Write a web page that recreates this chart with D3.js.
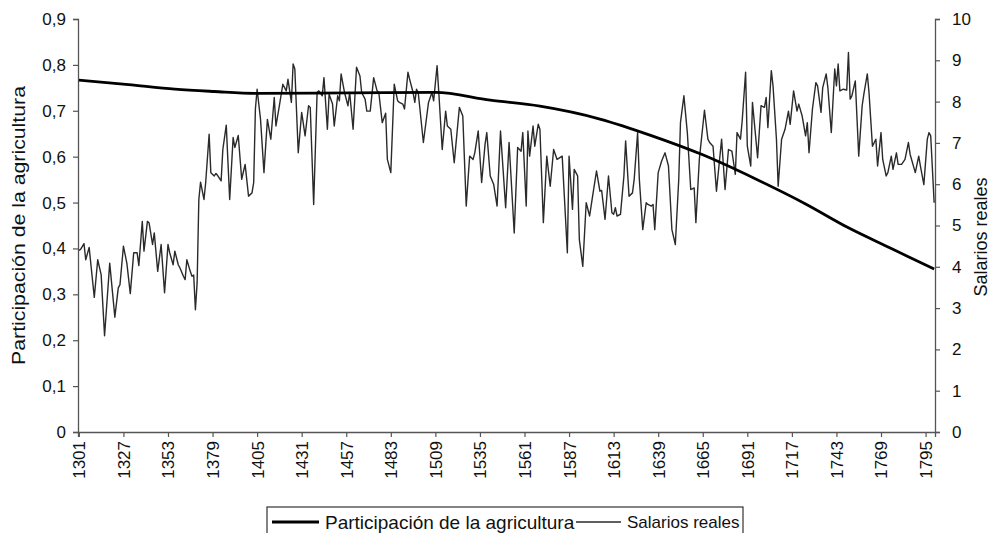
<!DOCTYPE html>
<html>
<head>
<meta charset="utf-8">
<script src="https://cdn.jsdelivr.net/npm/d3@7"></script>
<style>
  body { margin: 0; background: #fff; }
  svg { display: block; font-family: "Liberation Sans", Arial, sans-serif; }
</style>
</head>
<body>
<svg id="chart" width="990" height="533"></svg>
<script>
// tick labels on the category axis
const yearTicks = d3.range(1301, 1800, 26);
const leftTicks = [0, 0.1, 0.2, 0.3, 0.4, 0.5, 0.6, 0.7, 0.8, 0.9];
const rightTicks = [0, 1, 2, 3, 4, 5, 6, 7, 8, 9, 10];

// Participación de la agricultura (left axis)
const agriYears = [1301, 1330, 1357, 1380, 1405, 1460, 1509, 1541, 1570, 1605, 1635, 1665, 1695, 1725, 1750, 1775, 1800];
const agriShare = [0.767, 0.757, 0.747, 0.742, 0.738, 0.739, 0.740, 0.723, 0.710, 0.682, 0.646, 0.604, 0.553, 0.497, 0.445, 0.400, 0.355];

// Salarios reales (right axis), turning points
const wageYears = [
  1301, 1302, 1304, 1305, 1307, 1310, 1312, 1314, 1316, 1319, 1322, 1324, 1325, 1327, 1329, 1331, 1333, 1335, 1336, 1338,
  1339, 1341, 1342, 1344, 1345, 1347, 1349, 1351, 1353, 1354, 1356, 1357, 1359, 1360, 1362, 1363, 1364, 1366, 1367, 1368,
  1369, 1370, 1371, 1372, 1374, 1375, 1377, 1378, 1380, 1381, 1382, 1384, 1385, 1387, 1389, 1391, 1392, 1394, 1396, 1398,
  1400, 1402, 1403, 1404, 1405, 1407, 1409, 1411, 1413, 1415, 1416, 1418, 1420, 1422, 1423, 1425, 1426, 1427, 1429, 1431,
  1433, 1435, 1436, 1438, 1440, 1441, 1443, 1444, 1446, 1447, 1449, 1450, 1452, 1453, 1454, 1456, 1458, 1459, 1461, 1463,
  1465, 1466, 1468, 1469, 1471, 1473, 1475, 1476, 1478, 1480, 1481, 1483, 1485, 1487, 1488, 1490, 1491, 1493, 1494, 1496,
  1497, 1498, 1499, 1502, 1505, 1507, 1508, 1510, 1511, 1513, 1515, 1516, 1518, 1520, 1523, 1525, 1527, 1529, 1531, 1532,
  1534, 1536, 1538, 1539, 1541, 1543, 1545, 1547, 1550, 1552, 1555, 1557, 1559, 1560, 1562, 1563, 1564, 1566, 1567, 1569,
  1570, 1572, 1574, 1576, 1578, 1580, 1583, 1586, 1587, 1589, 1590, 1592, 1593, 1595, 1597, 1599, 1600, 1603, 1605, 1606,
  1608, 1610, 1612, 1613, 1614, 1615, 1617, 1619, 1620, 1622, 1624, 1625, 1627, 1628, 1630, 1632, 1633, 1635, 1636, 1637,
  1639, 1641, 1643, 1645, 1647, 1649, 1651, 1652, 1654, 1656, 1658, 1660, 1661, 1663, 1666, 1668, 1669, 1671, 1673, 1676,
  1678, 1680, 1682, 1684, 1685, 1687, 1688, 1690, 1691, 1693, 1694, 1696, 1697, 1699, 1701, 1702, 1703, 1705, 1706, 1708,
  1709, 1711, 1713, 1715, 1716, 1718, 1720, 1721, 1723, 1725, 1726, 1727, 1729, 1731, 1732, 1734, 1735, 1737, 1738, 1740,
  1742, 1743, 1744, 1745, 1747, 1749, 1750, 1751, 1752, 1754, 1756, 1758, 1759, 1761, 1762, 1763, 1764, 1766, 1767, 1769,
  1770, 1772, 1773, 1775, 1776, 1778, 1779, 1781, 1783, 1785, 1786, 1789, 1791, 1792, 1794, 1796, 1797, 1798, 1800
];
const wageValues = [
  4.40, 4.42, 4.56, 4.17, 4.47, 3.26, 4.17, 3.81, 2.33, 4.09, 2.78, 3.49, 3.57, 4.50, 4.09, 3.35, 4.34, 4.34, 4.03, 5.10,
  4.38, 5.10, 5.06, 4.54, 4.82, 3.89, 4.54, 3.37, 4.54, 4.34, 4.05, 4.38, 4.05, 3.97, 3.77, 3.69, 4.17, 3.89, 3.77, 3.80,
  2.96, 3.61, 5.63, 6.05, 5.63, 6.04, 7.21, 6.28, 6.20, 6.26, 6.21, 6.08, 6.84, 7.43, 5.63, 7.13, 6.89, 7.18, 6.12, 6.48,
  5.71, 5.79, 6.04, 7.82, 8.30, 7.57, 6.28, 7.57, 7.09, 8.10, 7.41, 7.90, 8.42, 8.26, 8.54, 7.98, 8.91, 8.79, 6.76, 7.74,
  7.17, 7.90, 7.86, 5.51, 8.22, 8.26, 8.14, 8.58, 7.33, 8.18, 7.94, 7.41, 8.14, 8.02, 8.67, 8.22, 7.90, 8.22, 7.33, 8.83,
  8.62, 8.22, 8.06, 7.77, 7.77, 8.58, 8.26, 8.22, 7.49, 7.72, 6.60, 6.28, 8.42, 8.02, 7.98, 7.94, 7.82, 8.71, 8.54, 8.22,
  7.98, 8.30, 8.22, 7.01, 7.98, 8.22, 8.02, 8.87, 8.22, 6.84, 7.77, 7.41, 7.33, 6.52, 7.86, 7.65, 5.47, 6.68, 6.60, 6.76,
  7.29, 6.04, 6.97, 7.25, 6.20, 6.00, 5.47, 7.29, 5.43, 7.01, 4.82, 6.89, 6.80, 7.25, 5.47, 7.29, 6.68, 7.41, 6.92, 7.45,
  7.33, 5.07, 6.68, 5.95, 6.84, 6.60, 6.68, 4.34, 6.68, 5.39, 6.36, 6.20, 4.66, 4.01, 5.55, 5.23, 5.51, 6.32, 5.83, 5.85,
  5.15, 6.20, 5.31, 5.27, 5.43, 5.23, 5.27, 6.20, 7.05, 5.71, 5.79, 6.12, 7.25, 6.12, 4.90, 5.55, 5.51, 5.47, 5.51, 4.90,
  6.28, 6.56, 6.76, 6.44, 4.90, 4.54, 6.12, 7.49, 8.14, 7.25, 5.87, 5.91, 5.07, 6.60, 7.79, 7.09, 7.01, 6.92, 5.83, 7.09,
  5.87, 6.84, 6.80, 6.24, 7.25, 7.09, 7.53, 8.71, 6.92, 6.44, 7.98, 7.09, 6.64, 7.90, 7.86, 8.10, 7.37, 8.75, 8.38, 7.09,
  5.95, 7.09, 7.33, 7.77, 7.45, 8.26, 7.77, 7.94, 7.65, 7.17, 7.49, 6.76, 7.82, 8.46, 8.38, 7.74, 8.34, 8.67, 8.34, 7.25,
  8.79, 8.38, 8.91, 8.26, 8.30, 8.28, 9.19, 8.06, 8.14, 8.50, 6.68, 7.90, 8.18, 8.67, 8.22, 7.57, 6.92, 7.09, 6.44, 7.25,
  6.60, 6.20, 6.28, 6.68, 6.36, 6.76, 6.48, 6.48, 6.60, 7.01, 6.72, 6.28, 6.68, 6.44, 5.99, 7.09, 7.25, 7.17, 5.55
];

const margin = {top: 19, right: 55, bottom: 101, left: 78};
const svg = d3.select('#chart');
const width = +svg.attr('width') - margin.left - margin.right;
const height = +svg.attr('height') - margin.top - margin.bottom;
const axisColor = '#555';

const x = d3.scaleLinear().domain([1300.5, 1800.5]).range([0, width]);
const yLeft = d3.scaleLinear().domain([0, 0.9]).range([height, 0]);
const yRight = d3.scaleLinear().domain([0, 10]).range([height, 0]);

const g = svg.append('g').attr('transform', `translate(${margin.left},${margin.top})`);

const commaFmt = d => d === 0 ? '0' : d3.format('.1f')(d).replace('.', ',');

// axes
const leftAxis = g.append('g')
  .call(d3.axisLeft(yLeft).tickValues(leftTicks).tickFormat(commaFmt).tickSize(5).tickPadding(7));
const rightAxis = g.append('g').attr('transform', `translate(${width},0)`)
  .call(d3.axisRight(yRight).tickValues(rightTicks).tickFormat(d3.format('d')).tickSize(5).tickPadding(12));
const bottomAxis = g.append('g').attr('transform', `translate(0,${height})`)
  .call(d3.axisBottom(x).tickValues(yearTicks).tickFormat(d3.format('d')).tickSize(5).tickPadding(4));

[leftAxis, rightAxis, bottomAxis].forEach(a => {
  a.select('.domain').attr('stroke', axisColor).attr('stroke-width', 1.3);
  a.selectAll('.tick line').attr('stroke', axisColor).attr('stroke-width', 1.2);
  a.selectAll('.tick text').attr('fill', '#111').style('font-size', '17px');
});
bottomAxis.selectAll('.tick text')
  .attr('transform', 'rotate(-90)')
  .attr('text-anchor', 'end')
  .attr('x', -9)
  .attr('y', 0)
  .attr('dy', '0.35em');

// axis titles
svg.append('text')
  .attr('transform', `translate(18,${margin.top + height / 2}) rotate(-90) scale(1.12,1)`)
  .attr('text-anchor', 'middle')
  .attr('dy', '0.35em')
  .style('font-size', '19px')
  .attr('fill', '#111')
  .text('Participación de la agricultura');
svg.append('text')
  .attr('transform', `translate(981,237) rotate(-90)`)
  .attr('text-anchor', 'middle')
  .attr('dy', '0.35em')
  .style('font-size', '18px')
  .attr('fill', '#111')
  .text('Salarios reales');

// lines
const agri = agriYears.map((yr, i) => ({year: yr, value: agriShare[i]}));
const wage = wageYears.map((yr, i) => ({year: yr, value: wageValues[i]}));

g.append('path').datum(wage)
  .attr('fill', 'none')
  .attr('stroke', '#2a2a2a')
  .attr('stroke-width', 1.4)
  .attr('stroke-linejoin', 'round')
  .attr('d', d3.line().x(d => x(d.year)).y(d => yRight(d.value)));

g.append('path').datum(agri)
  .attr('fill', 'none')
  .attr('stroke', '#000')
  .attr('stroke-width', 2.8)
  .attr('d', d3.line().curve(d3.curveMonotoneX).x(d => x(d.year)).y(d => yLeft(d.value)));

// legend
const legend = svg.append('g').attr('transform', 'translate(267,507)');
legend.append('rect')
  .attr('width', 476).attr('height', 40)
  .attr('fill', '#fff').attr('stroke', '#333').attr('stroke-width', 1.2);
legend.append('line').attr('x1', 5).attr('x2', 52).attr('y1', 15).attr('y2', 15)
  .attr('stroke', '#000').attr('stroke-width', 2.8);
legend.append('text').attr('x', 58).attr('y', 15).attr('dy', '0.35em')
  .style('font-size', '19px').attr('fill', '#111')
  .text('Participación de la agricultura');
legend.append('line').attr('x1', 309).attr('x2', 354).attr('y1', 15).attr('y2', 15)
  .attr('stroke', '#2a2a2a').attr('stroke-width', 1.4);
legend.append('text').attr('x', 360).attr('y', 15).attr('dy', '0.35em')
  .style('font-size', '17px').attr('fill', '#111')
  .text('Salarios reales');
</script>
</body>
</html>
